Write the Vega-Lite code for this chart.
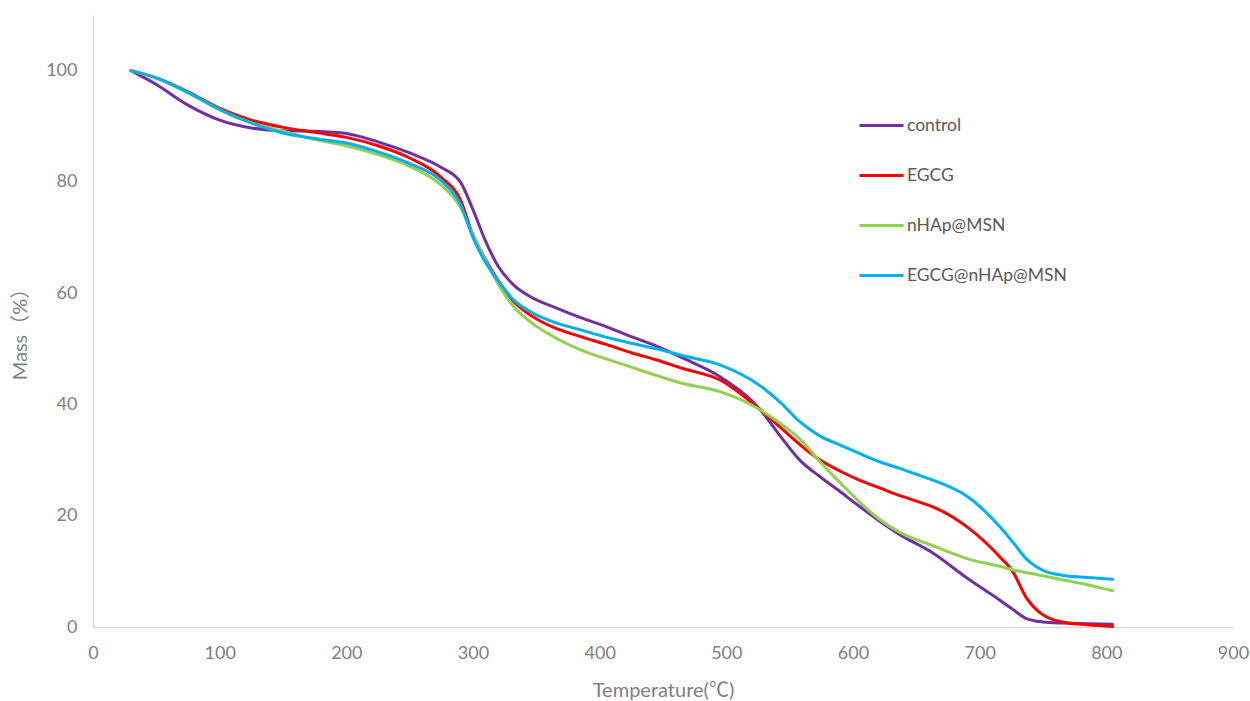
{
  "$schema": "https://vega.github.io/schema/vega-lite/v6.json",
  "width": 1140,
  "height": 612,
  "autosize": {"type": "none"},
  "padding": {"left": 93, "top": 15, "right": 17, "bottom": 74},
  "background": "white",
  "config": {
    "view": {"stroke": null},
    "font": "Lato",
    "axis": {"grid": false, "ticks": false, "domainColor": "#d9d9d9", "domainWidth": 1.3, "labelColor": "#7f7f7f", "labelFontSize": 18, "labelFont": "Lato", "labelFlush": false, "labelOverlap": false, "titleColor": "#7f7f7f", "titleFont": "Lato", "titleFontSize": 20, "titleFontWeight": "normal"}
  },
  "datasets": {
    "tga": [
      {"s":"control","t":30,"m":100},{"s":"control","t":50,"m":97.5},{"s":"control","t":75,"m":93.8},{"s":"control","t":100,"m":91.1},{"s":"control","t":125,"m":89.7},{"s":"control","t":150,"m":89.2},{"s":"control","t":175,"m":89.1},{"s":"control","t":200,"m":88.7},{"s":"control","t":225,"m":87.2},{"s":"control","t":250,"m":85.2},{"s":"control","t":275,"m":82.6},{"s":"control","t":290,"m":80},{"s":"control","t":300,"m":75},{"s":"control","t":310,"m":69.3},{"s":"control","t":320,"m":64.8},{"s":"control","t":332,"m":61.5},{"s":"control","t":345,"m":59.4},{"s":"control","t":365,"m":57.4},{"s":"control","t":385,"m":55.6},{"s":"control","t":405,"m":54.0},{"s":"control","t":425,"m":52.2},{"s":"control","t":445,"m":50.5},{"s":"control","t":465,"m":48.4},{"s":"control","t":495,"m":45},{"s":"control","t":527,"m":39},{"s":"control","t":542,"m":34.5},{"s":"control","t":558,"m":30},{"s":"control","t":574,"m":27},{"s":"control","t":590,"m":24.3},{"s":"control","t":605,"m":21.7},{"s":"control","t":620,"m":19.2},{"s":"control","t":637,"m":16.6},{"s":"control","t":663,"m":13.3},{"s":"control","t":690,"m":8.8},{"s":"control","t":716,"m":4.8},{"s":"control","t":726,"m":3.2},{"s":"control","t":737,"m":1.5},{"s":"control","t":750,"m":0.9},{"s":"control","t":765,"m":0.7},{"s":"control","t":785,"m":0.6},{"s":"control","t":805,"m":0.5},
      {"s":"EGCG","t":30,"m":100},{"s":"EGCG","t":50,"m":98.7},{"s":"EGCG","t":75,"m":96.2},{"s":"EGCG","t":100,"m":93.2},{"s":"EGCG","t":125,"m":91.1},{"s":"EGCG","t":150,"m":89.8},{"s":"EGCG","t":175,"m":88.9},{"s":"EGCG","t":200,"m":88},{"s":"EGCG","t":225,"m":86.5},{"s":"EGCG","t":250,"m":84.3},{"s":"EGCG","t":275,"m":80.8},{"s":"EGCG","t":290,"m":76.8},{"s":"EGCG","t":300,"m":70.5},{"s":"EGCG","t":310,"m":66},{"s":"EGCG","t":320,"m":62.2},{"s":"EGCG","t":332,"m":58.5},{"s":"EGCG","t":345,"m":56.1},{"s":"EGCG","t":365,"m":53.7},{"s":"EGCG","t":385,"m":52.2},{"s":"EGCG","t":405,"m":50.8},{"s":"EGCG","t":425,"m":49.3},{"s":"EGCG","t":445,"m":48},{"s":"EGCG","t":465,"m":46.5},{"s":"EGCG","t":495,"m":44.4},{"s":"EGCG","t":527,"m":39},{"s":"EGCG","t":542,"m":36},{"s":"EGCG","t":558,"m":32.8},{"s":"EGCG","t":574,"m":30},{"s":"EGCG","t":590,"m":28},{"s":"EGCG","t":605,"m":26.4},{"s":"EGCG","t":621,"m":25},{"s":"EGCG","t":637,"m":23.6},{"s":"EGCG","t":653,"m":22.4},{"s":"EGCG","t":663,"m":21.6},{"s":"EGCG","t":690,"m":18},{"s":"EGCG","t":716,"m":12.6},{"s":"EGCG","t":726,"m":10.0},{"s":"EGCG","t":737,"m":5.2},{"s":"EGCG","t":748,"m":2.5},{"s":"EGCG","t":763,"m":1.0},{"s":"EGCG","t":785,"m":0.4},{"s":"EGCG","t":805,"m":0.1},
      {"s":"nHAp@MSN","t":30,"m":100},{"s":"nHAp@MSN","t":50,"m":98.6},{"s":"nHAp@MSN","t":75,"m":96},{"s":"nHAp@MSN","t":100,"m":93},{"s":"nHAp@MSN","t":125,"m":90.6},{"s":"nHAp@MSN","t":150,"m":89.1},{"s":"nHAp@MSN","t":175,"m":87.6},{"s":"nHAp@MSN","t":200,"m":86.5},{"s":"nHAp@MSN","t":225,"m":84.9},{"s":"nHAp@MSN","t":250,"m":82.8},{"s":"nHAp@MSN","t":275,"m":79.4},{"s":"nHAp@MSN","t":290,"m":75.5},{"s":"nHAp@MSN","t":300,"m":70.5},{"s":"nHAp@MSN","t":310,"m":65.8},{"s":"nHAp@MSN","t":320,"m":61.6},{"s":"nHAp@MSN","t":332,"m":57.6},{"s":"nHAp@MSN","t":345,"m":54.9},{"s":"nHAp@MSN","t":365,"m":52},{"s":"nHAp@MSN","t":385,"m":49.8},{"s":"nHAp@MSN","t":405,"m":48.2},{"s":"nHAp@MSN","t":425,"m":46.7},{"s":"nHAp@MSN","t":445,"m":45.2},{"s":"nHAp@MSN","t":465,"m":43.8},{"s":"nHAp@MSN","t":495,"m":42.3},{"s":"nHAp@MSN","t":527,"m":39},{"s":"nHAp@MSN","t":542,"m":36.7},{"s":"nHAp@MSN","t":558,"m":33.8},{"s":"nHAp@MSN","t":574,"m":29.7},{"s":"nHAp@MSN","t":590,"m":25.9},{"s":"nHAp@MSN","t":605,"m":22.5},{"s":"nHAp@MSN","t":620,"m":19.5},{"s":"nHAp@MSN","t":637,"m":17},{"s":"nHAp@MSN","t":663,"m":14.6},{"s":"nHAp@MSN","t":690,"m":12.3},{"s":"nHAp@MSN","t":716,"m":10.9},{"s":"nHAp@MSN","t":726,"m":10.3},{"s":"nHAp@MSN","t":750,"m":9.2},{"s":"nHAp@MSN","t":765,"m":8.5},{"s":"nHAp@MSN","t":785,"m":7.6},{"s":"nHAp@MSN","t":805,"m":6.5},
      {"s":"EGCG@nHAp@MSN","t":30,"m":100},{"s":"EGCG@nHAp@MSN","t":50,"m":98.7},{"s":"EGCG@nHAp@MSN","t":75,"m":96.1},{"s":"EGCG@nHAp@MSN","t":100,"m":93},{"s":"EGCG@nHAp@MSN","t":125,"m":90.6},{"s":"EGCG@nHAp@MSN","t":150,"m":88.8},{"s":"EGCG@nHAp@MSN","t":175,"m":87.8},{"s":"EGCG@nHAp@MSN","t":200,"m":87},{"s":"EGCG@nHAp@MSN","t":225,"m":85.4},{"s":"EGCG@nHAp@MSN","t":250,"m":83.3},{"s":"EGCG@nHAp@MSN","t":275,"m":80.2},{"s":"EGCG@nHAp@MSN","t":290,"m":76},{"s":"EGCG@nHAp@MSN","t":300,"m":70},{"s":"EGCG@nHAp@MSN","t":310,"m":65.5},{"s":"EGCG@nHAp@MSN","t":320,"m":62.2},{"s":"EGCG@nHAp@MSN","t":332,"m":58.8},{"s":"EGCG@nHAp@MSN","t":345,"m":56.7},{"s":"EGCG@nHAp@MSN","t":365,"m":54.7},{"s":"EGCG@nHAp@MSN","t":385,"m":53.4},{"s":"EGCG@nHAp@MSN","t":405,"m":52.1},{"s":"EGCG@nHAp@MSN","t":425,"m":51},{"s":"EGCG@nHAp@MSN","t":445,"m":50},{"s":"EGCG@nHAp@MSN","t":465,"m":48.8},{"s":"EGCG@nHAp@MSN","t":495,"m":47.1},{"s":"EGCG@nHAp@MSN","t":527,"m":43.3},{"s":"EGCG@nHAp@MSN","t":542,"m":40.5},{"s":"EGCG@nHAp@MSN","t":558,"m":36.9},{"s":"EGCG@nHAp@MSN","t":574,"m":34.3},{"s":"EGCG@nHAp@MSN","t":590,"m":32.7},{"s":"EGCG@nHAp@MSN","t":605,"m":31.2},{"s":"EGCG@nHAp@MSN","t":621,"m":29.7},{"s":"EGCG@nHAp@MSN","t":637,"m":28.5},{"s":"EGCG@nHAp@MSN","t":653,"m":27.2},{"s":"EGCG@nHAp@MSN","t":670,"m":25.8},{"s":"EGCG@nHAp@MSN","t":690,"m":23.5},{"s":"EGCG@nHAp@MSN","t":716,"m":18},{"s":"EGCG@nHAp@MSN","t":726,"m":15.3},{"s":"EGCG@nHAp@MSN","t":737,"m":12.2},{"s":"EGCG@nHAp@MSN","t":745,"m":10.8},{"s":"EGCG@nHAp@MSN","t":752,"m":10.0},{"s":"EGCG@nHAp@MSN","t":765,"m":9.3},{"s":"EGCG@nHAp@MSN","t":785,"m":8.9},{"s":"EGCG@nHAp@MSN","t":805,"m":8.6}
    ]
  },
  "data": {"name": "tga"},
  "mark": {"type": "line", "interpolate": "monotone", "strokeWidth": 3, "strokeCap": "round"},
  "encoding": {
    "x": {"field": "t", "type": "quantitative", "scale": {"domain": [0, 900], "nice": false, "zero": false}, "axis": {"values": [0,100,200,300,400,500,600,700,800,900], "title": "Temperature(℃)", "labelPadding": 17, "titlePadding": 18, "titleFont": "Lato, Noto Sans CJK SC"}},
    "y": {"field": "m", "type": "quantitative", "scale": {"domain": [0, 110], "nice": false}, "axis": {"values": [0,20,40,60,80,100], "title": "Mass（%）", "labelPadding": 16, "titlePadding": 15, "titleFont": "Lato, Noto Sans CJK SC", "titleY": 314}},
    "color": {"field": "s", "type": "nominal", "sort": null, "scale": {"domain": ["control", "EGCG", "nHAp@MSN", "EGCG@nHAp@MSN"], "range": ["#7030A0", "#FF0000", "#92D050", "#00B0F0"]},
      "legend": {"title": null, "orient": "none", "legendX": 765, "legendY": 87, "symbolType": "stroke", "symbolStrokeWidth": 3, "symbolSize": 1936, "labelFontSize": 17.5, "labelColor": "#595959", "labelFont": "Lato", "labelOffset": 2, "rowPadding": 18, "labelLimit": 300}}
  }
}
